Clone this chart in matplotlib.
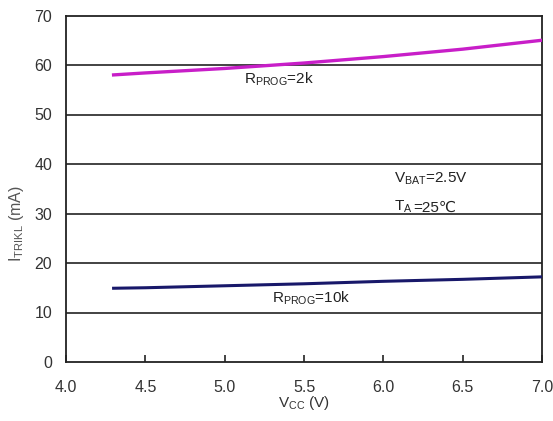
import numpy as np
import matplotlib
matplotlib.use("Agg")
import matplotlib.pyplot as plt

plt.rcParams['font.family'] = ['Liberation Sans', 'DejaVu Sans']
plt.rcParams['mathtext.fontset'] = 'custom'
plt.rcParams['mathtext.rm'] = 'Liberation Sans'

# данные
vcc = [4.3, 4.5, 5.0, 5.5, 6.0, 6.5, 7.0]
i_2k = [58.0, 58.4, 59.3, 60.4, 61.7, 63.2, 65.0]
i_10k = [14.9, 15.0, 15.4, 15.8, 16.3, 16.7, 17.2]

x_ticks = [4.0, 4.5, 5.0, 5.5, 6.0, 6.5, 7.0]
y_ticks = [0, 10, 20, 30, 40, 50, 60, 70]

fig = plt.figure(figsize=(5.53, 4.21), dpi=100)
ax = fig.add_axes([66 / 553, 1 - 362 / 421, (542 - 66) / 553, (362 - 15.5) / 421])

ax.set_xlim(4.0, 7.0)
ax.set_ylim(0, 70)
for y in y_ticks[1:-1]:
    ax.axhline(y, color='#222222', lw=1.2, zorder=1)

ax.plot(vcc, i_2k, color='#c81ec8', lw=2.4, zorder=3)
ax.plot(vcc, i_10k, color='#18186a', lw=2.2, zorder=3)

ax.set_xticks(x_ticks)
ax.set_xticklabels(['%.1f' % v for v in x_ticks])
ax.set_yticks(y_ticks)
ax.tick_params(axis='x', direction='in', length=5, width=1.2, pad=13,
               labelsize=11.5, colors='#222222', labelcolor='#333333', top=False)
ax.tick_params(axis='y', length=0, pad=10, labelsize=11.5, labelcolor='#333333')
for s in ax.spines.values():
    s.set_color('#222222')
    s.set_linewidth(1.3)

ax.set_xlabel(r'V$\mathregular{_{CC}}$ (V)', fontsize=11, color='#333333', labelpad=-1)
ax.set_ylabel(r'I$\mathregular{_{TRIKL}}$ (mA)', fontsize=11.5, color='#555555')
ax.yaxis.set_label_coords(-0.085, 0.4)

ax.text(5.12, 56.3, r'R$\mathregular{_{PROG}}$=2k', fontsize=11, color='#222222')
ax.text(5.3, 12.1, r'R$\mathregular{_{PROG}}$=10k', fontsize=11, color='#222222')
ax.text(6.07, 36.2, r'V$\mathregular{_{BAT}}$=2.5V', fontsize=11, color='#222222')
ta = ax.text(6.07, 30.6, r'T$\mathregular{_{A}}$', fontsize=11, color='#222222',
             va='baseline')
# знак ℃ отдельным текстом, чтобы взялся шрифт с этим символом
ax.annotate('=25℃', xy=(1, 0), xycoords=ta, xytext=(0, 2.3), textcoords='offset points',
            fontsize=11, color='#222222', va='baseline',
            fontfamily=['Liberation Sans', 'DejaVu Sans'])

fig.savefig('out.png', dpi=100, facecolor='white')
